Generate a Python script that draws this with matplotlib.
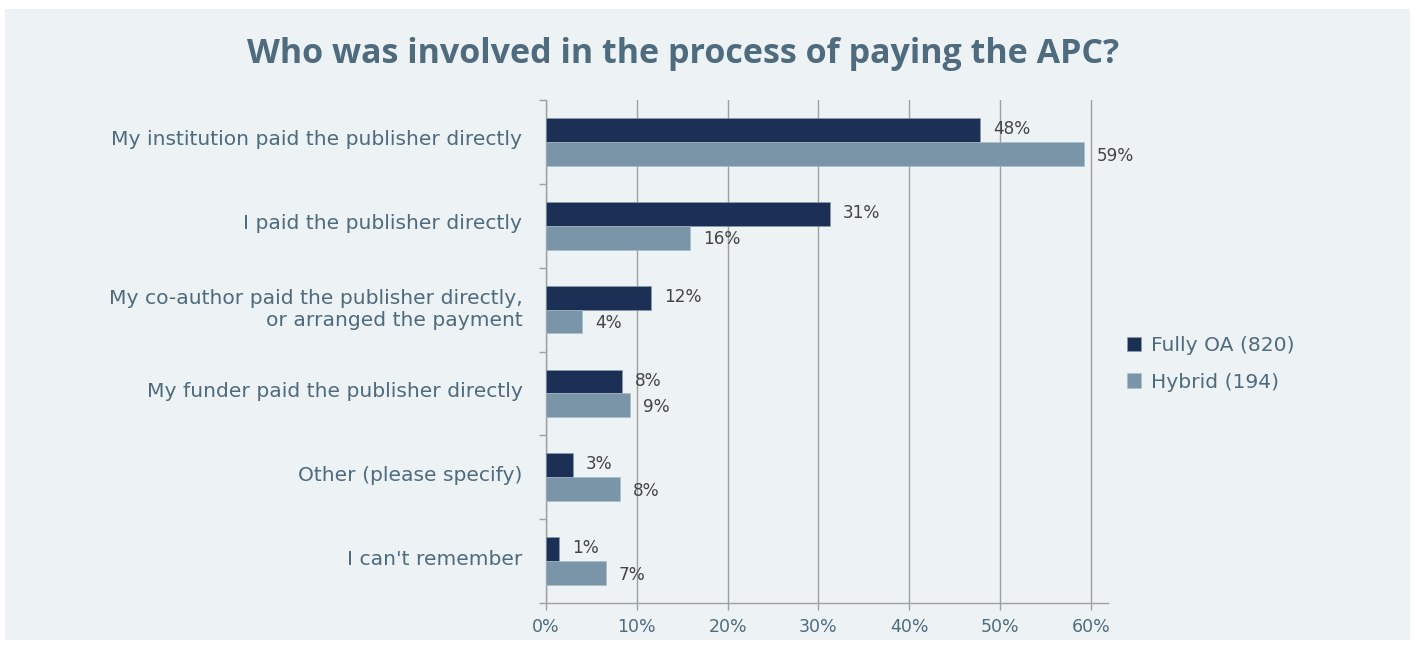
import numpy as np
import matplotlib
matplotlib.use('Agg')
import matplotlib.pyplot as plt
import matplotlib.transforms as mtransforms
from matplotlib.patches import Rectangle

# Data
categories = ['My institution paid the publisher directly',
              'I paid the publisher directly',
              'My co-author paid the publisher directly,\nor arranged the payment',
              'My funder paid the publisher directly',
              'Other (please specify)',
              "I can't remember"]
fully_oa = [47.8, 31.3, 11.6, 8.4, 3.0, 1.45]
hybrid = [59.25, 15.9, 4.0, 9.25, 8.15, 6.6]
series_names = ['Fully OA (820)', 'Hybrid (194)']
xticks = [0, 10, 20, 30, 40, 50, 60]

plt.rcParams['font.family'] = ['DejaVu Sans']

navy = '#1c2f55'
steel = '#7a95a8'
text_col = '#4f6b7e'
grid_col = '#a0a0a0'
panel = '#edf2f5'

fig = plt.figure(figsize=(14.16, 6.46), dpi=100)
fig.patch.set_facecolor('white')
fig.patches.append(Rectangle((5 / 1416, 1 - 640 / 646), 1405 / 1416, 631 / 646,
                             transform=fig.transFigure, facecolor=panel,
                             edgecolor='none', zorder=-5))

ax = fig.add_axes([546 / 1416, 1 - 603 / 646, 562 / 1416, 503 / 646])
ax.set_facecolor('none')

n = len(categories)
y = np.arange(n)
h = 0.285
ax.barh(y - h / 2, fully_oa, height=h, color=navy, label=series_names[0], zorder=3,
        edgecolor='#8aa0b0', linewidth=0.4)
ax.barh(y + h / 2, hybrid, height=h, color=steel, label=series_names[1], zorder=3,
        edgecolor='#a8bccb', linewidth=0.4)

for yi, v in zip(y, fully_oa):
    ax.text(v + 1.4, yi - h / 2 - 0.01, f'{v:.0f}%', va='center', ha='left',
            fontsize=12.2, color='#444444', zorder=4)
for yi, v in zip(y, hybrid):
    ax.text(v + 1.4, yi + h / 2 + 0.02, f'{v:.0f}%', va='center', ha='left',
            fontsize=12.2, color='#444444', zorder=4)

ax.set_ylim(n - 0.5, -0.5)
ax.set_xlim(0, 61.9)
ax.set_xticks(xticks)
ax.set_xticklabels([f'{t}%' for t in xticks])
ax.set_yticks(y)
ax.set_yticklabels(categories, linespacing=1.25)
ax.set_yticks(np.arange(n + 1) - 0.5, minor=True)

ax.tick_params(axis='y', which='major', length=0, pad=17, labelsize=14.6,
               labelcolor=text_col)
ax.tick_params(axis='y', which='minor', length=5, color=grid_col, width=1)
ax.tick_params(axis='x', which='major', length=5, color=grid_col, width=1,
               pad=6, labelsize=12.5, labelcolor=text_col)
shift = mtransforms.ScaledTranslation(0, 4 / 100, fig.dpi_scale_trans)
for lab in ax.get_yticklabels():
    lab.set_transform(lab.get_transform() + shift)

ax.grid(axis='x', color=grid_col, linewidth=1, zorder=0)
for s in ['top', 'right']:
    ax.spines[s].set_visible(False)
for s in ['left', 'bottom']:
    ax.spines[s].set_color(grid_col)
    ax.spines[s].set_linewidth(1)

leg = ax.legend(loc='center left', bbox_to_anchor=(1109 / 1416, 1 - 364 / 646),
                bbox_transform=fig.transFigure, frameon=False, fontsize=14.6,
                handlelength=0.7, handleheight=0.7, handletextpad=0.45,
                labelspacing=0.85)
for t in leg.get_texts():
    t.set_color(text_col)

fig.text(683 / 1416, 1 - 54 / 646, 'Who was involved in the process of paying the APC?',
         ha='center', va='center', fontsize=24.5, fontweight='bold', color='#4f6b7e',
         family=['Open Sans', 'DejaVu Sans'])

fig.savefig('out.png', dpi=100, facecolor='white')
